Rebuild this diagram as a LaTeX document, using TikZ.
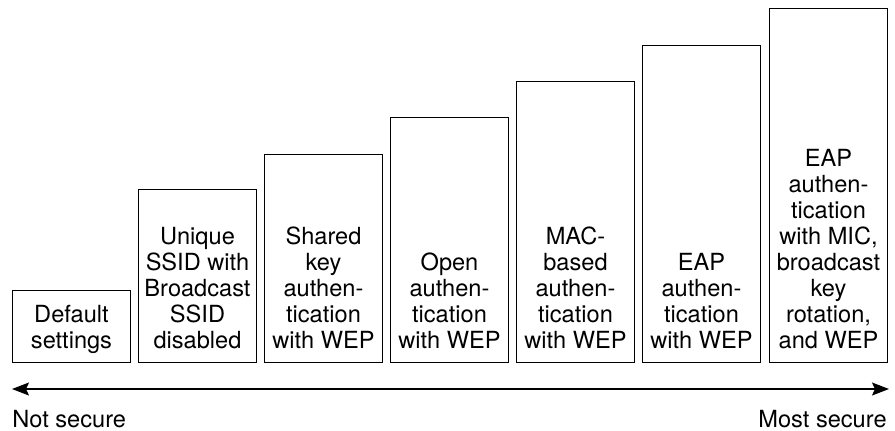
\documentclass[tikz,border=0pt]{standalone}
\usepackage{fontspec}
\setmainfont{TeX Gyre Heros}
\usetikzlibrary{arrows.meta}
\tikzset{
  bar/.style={draw, line width=0.5pt, minimum width=59pt, anchor=south west, inner sep=0pt},
  bartext/.style={anchor=south, align=center, inner sep=0pt, font=\fontsize{11.8}{13}\selectfont},
  endtext/.style={inner sep=0pt, font=\fontsize{11.8}{13}\selectfont},
}
\begin{document}
\begin{tikzpicture}[x=0.5pt,y=-0.5pt]
\useasboundingbox (0,0) rectangle (895,430);
\foreach \i/\x/\top/\txt in {
    1/12/291/{Default\\settings},
    2/138/190/{Unique\\SSID with\\Broadcast\\SSID\\disabled},
    3/264/155/{Shared\\key\\authen-\\tication\\with WEP},
    4/390/118/{Open\\authen-\\tication\\with WEP},
    5/516/82/{MAC-\\based\\authen-\\tication\\with WEP},
    6/642/46/{EAP\\authen-\\tication\\with WEP},
    7/769/9/{EAP\\authen-\\tication\\with MIC,\\broadcast\\key\\rotation,\\and WEP}}
{
    \node[bar, minimum height={(363-\top)*0.5pt}] (bar\i) at (\x,363) {};
    \node[bartext] (txt\i) at ([yshift=3.1pt]bar\i.south) {\txt\strut};
}
\coordinate (lo) at (12,389);
\coordinate (hi) at (889,389);
\draw[{Stealth[length=8.5pt,width=6.5pt,inset=1.5pt]}-{Stealth[length=8.5pt,width=6.5pt,inset=1.5pt]}, line width=0.7pt] (lo) -- (hi);
\node[endtext, anchor=base west] (notsec) at (12,427) {Not secure};
\node[endtext, anchor=base east] (mostsec) at (887,427) {Most secure};
\end{tikzpicture}
\end{document}
